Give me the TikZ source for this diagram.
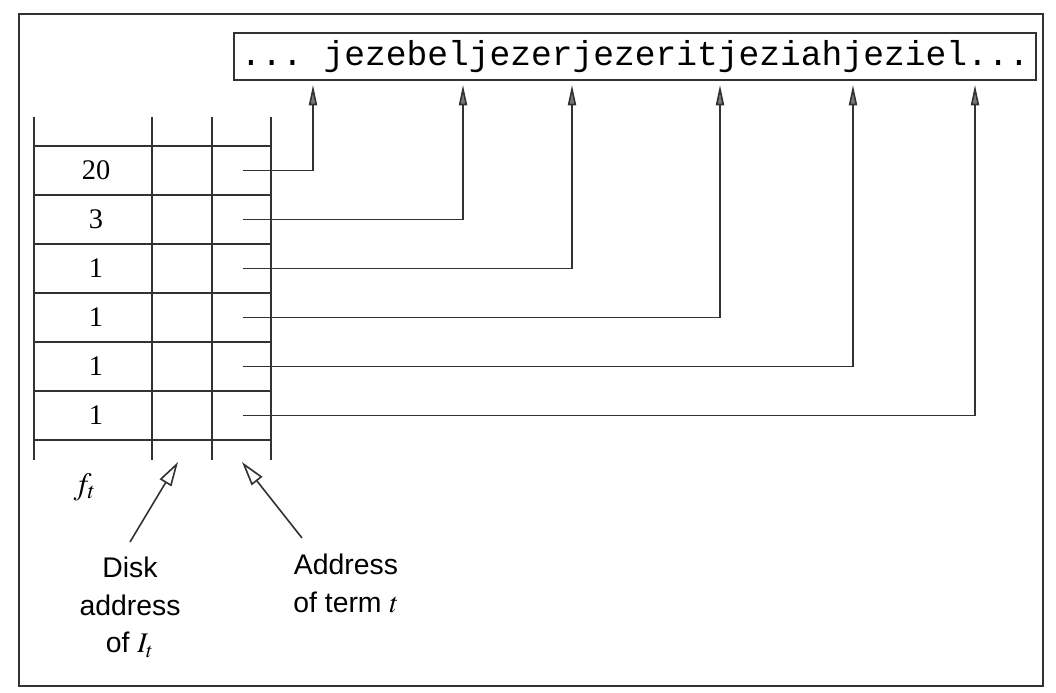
\documentclass[tikz,border=0pt]{standalone}
\usepackage{mathptmx}
\usepackage{fontspec}
\setmainfont{Liberation Serif}
\setsansfont{Liberation Sans}
\setmonofont{Liberation Mono}
\usetikzlibrary{arrows.meta}
\definecolor{inkgray}{RGB}{50,50,50}
\definecolor{tipgray}{RGB}{120,120,120}
\tikzset{
  rule/.style    = {draw=inkgray, line width=0.6pt},
  cell/.style    = {font=\fontsize{10.5}{12}\selectfont, inner sep=0pt},
  strbox/.style  = {rule, font=\ttfamily\fontsize{12.8}{14}\selectfont, inner sep=0pt,
                    minimum width=296.7pt, minimum height=17.4pt},
  ptr/.style     = {rule, -{Triangle[length=7.5pt,width=3pt,fill=tipgray]}},
  callout/.style = {rule, -{Triangle[open,length=9pt,width=5pt]}},
  note/.style    = {font=\sffamily\fontsize{10.5}{14}\selectfont, align=center, inner sep=0pt},
}

\begin{document}
\begin{tikzpicture}[x=0.37pt, y=-0.37pt]
  \useasboundingbox (0,0) rectangle (1056,693);
  \draw[rule] (19,14) rectangle (1043,686);

  % the term string
  \node[strbox] (str) at (635,56.5) {... jezebeljezerjezeritjeziahjeziel...};

  % lexicon table
  \draw[rule] (34,117) -- (34,460);
  \draw[rule] (152,117) -- (152,460);
  \draw[rule] (212,117) -- (212,460);
  \draw[rule] (271,117) -- (271,460);
  \draw[rule] (34,146) -- (271,146);
  \draw[rule] (34,195) -- (271,195);
  \draw[rule] (34,244) -- (271,244);
  \draw[rule] (34,293) -- (271,293);
  \draw[rule] (34,342) -- (271,342);
  \draw[rule] (34,391) -- (271,391);
  \draw[rule] (34,440) -- (271,440);

  \node[cell] (f1) at (96,170.5) {20};
  \node[cell] (f2) at (96,219.5) {3};
  \node[cell] (f3) at (96,268.5) {1};
  \node[cell] (f4) at (96,317.5) {1};
  \node[cell] (f5) at (96,366.5) {1};
  \node[cell] (f6) at (96,415.5) {1};

  % pointers into the string
  \coordinate (p1) at (243,170.5);
  \coordinate (p2) at (243,219.5);
  \coordinate (p3) at (243,268.5);
  \coordinate (p4) at (243,317.5);
  \coordinate (p5) at (243,366.5);
  \coordinate (p6) at (243,415.5);
  \coordinate (a1) at (313,85);
  \coordinate (a2) at (463,85);
  \coordinate (a3) at (572,85);
  \coordinate (a4) at (720,85);
  \coordinate (a5) at (853,85);
  \coordinate (a6) at (975,85);
  \draw[ptr] (p1) -| (a1);
  \draw[ptr] (p2) -| (a2);
  \draw[ptr] (p3) -| (a3);
  \draw[ptr] (p4) -| (a4);
  \draw[ptr] (p5) -| (a5);
  \draw[ptr] (p6) -| (a6);

  % column captions
  \node[cell, font=\fontsize{11.5}{12}\selectfont] (ft) at (85,487) {$f_t$};
  \node[note] (disk) at (130,607) {Disk\\address\\of $I_t$};
  \node[note] (addr) at (346,583) {Address\\of term $t$};
  \coordinate (d0) at (130,542);
  \coordinate (e0) at (302,538);
  \coordinate (c1) at (178,462);
  \coordinate (c2) at (242,462);
  \draw[callout] (d0) -- (c1);
  \draw[callout] (e0) -- (c2);
\end{tikzpicture}
\end{document}
